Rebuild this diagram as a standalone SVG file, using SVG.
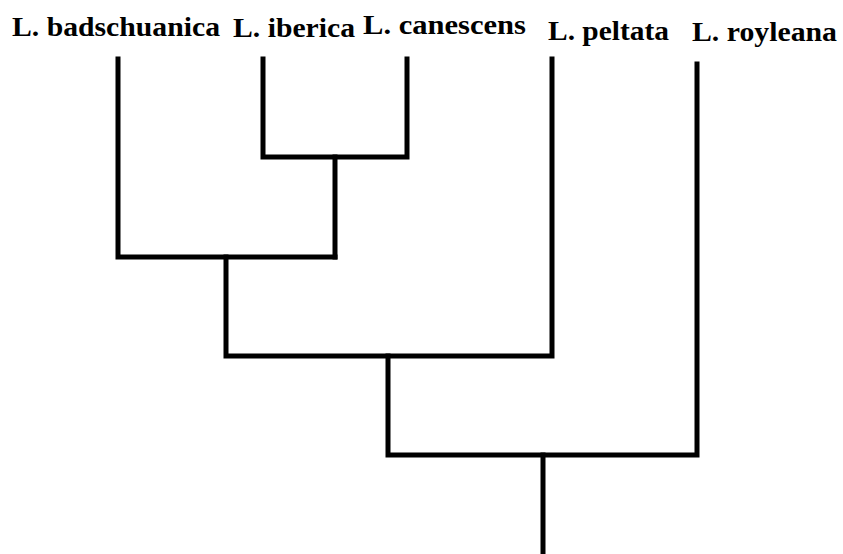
<svg xmlns="http://www.w3.org/2000/svg" width="843" height="554" viewBox="0 0 843 554">
  <style>
    .label { font-family: "Liberation Serif", "Times New Roman", serif; font-weight: bold; font-size: 28px; fill: #000; }
    .edge { fill: none; stroke: #000; stroke-width: 5; stroke-linecap: square; stroke-linejoin: miter; }
  </style>
  <rect width="843" height="554" fill="#fff"/>
  <g id="taxon-badschuanica"><text class="label" x="12" y="36" textLength="208" lengthAdjust="spacingAndGlyphs">L. badschuanica</text></g>
  <g id="taxon-iberica"><text class="label" x="233" y="37" textLength="122" lengthAdjust="spacingAndGlyphs">L. iberica</text></g>
  <g id="taxon-canescens"><text class="label" x="363" y="34" textLength="163" lengthAdjust="spacingAndGlyphs">L. canescens</text></g>
  <g id="taxon-peltata"><text class="label" x="548" y="40" textLength="121" lengthAdjust="spacingAndGlyphs">L. peltata</text></g>
  <g id="taxon-royleana"><text class="label" x="692" y="41" textLength="145" lengthAdjust="spacingAndGlyphs">L. royleana</text></g>
  <g id="connectors">
    <path class="edge" d="M263 59 V157 H407 V59"/>
    <path class="edge" d="M335 157 V257"/>
    <path class="edge" d="M118 59 V257 H335"/>
    <path class="edge" d="M226 257 V356 H552 V59"/>
    <path class="edge" d="M388 356 V455 H697 V64"/>
    <path class="edge" d="M543 455 V556"/>
  </g>
</svg>
